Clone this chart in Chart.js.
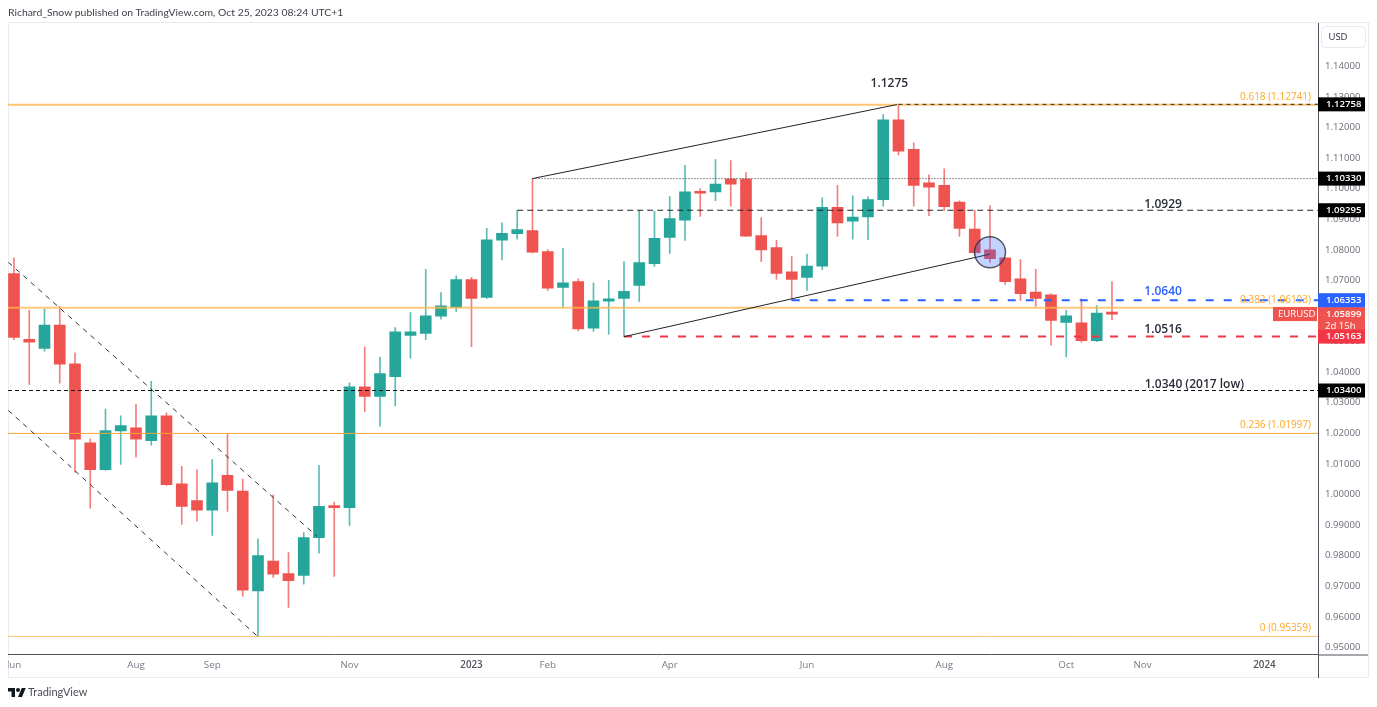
<!DOCTYPE html>
<html>
<head>
<meta charset="utf-8">
<title>EURUSD</title>
<script src="https://cdn.jsdelivr.net/npm/chart.js@4/dist/chart.umd.min.js"></script>
<style>
  html, body { margin: 0; padding: 0; background: #fff; width: 1377px; height: 707px; overflow: hidden; }
  #wrap { position: relative; width: 1377px; height: 707px; font-family: "Open Sans", sans-serif; }
  canvas { position: absolute; left: 0; top: 0; }
  #published { position: absolute; left: 8px; top: 6px; font-family: Lato, sans-serif; font-size: 10.4px; color: #3c3f48; white-space: nowrap; }
  #brand { position: absolute; left: 28px; top: 685px; font-family: Lato, sans-serif; font-size: 11px; color: #4a4d57; }
  #logo { position: absolute; left: 8px; top: 686px; }
  #leftMask { position: absolute; left: 0; top: 656px; width: 8px; height: 22px; background: #fff; }
</style>
</head>
<body>
<div id="wrap">
  <canvas id="chart" width="1377" height="707"></canvas>
  <div id="leftMask"></div>
  <div id="published">Richard_Snow published on TradingView.com, Oct 25, 2023 08:24 UTC+1</div>
  <svg id="logo" width="18" height="14" viewBox="0 0 36 28" fill="#131722">
    <path d="M14 22H7V11H0V4h14v18zM28 22h-8l7.5-18h8L28 22z"/><circle cx="20" cy="8" r="4"/>
  </svg>
  <div id="brand">TradingView</div>
</div>
<script>
// Weekly EURUSD candles, one entry per week from Jun 2022
const opens = [
  1.0722, 1.0507, 1.0478, 1.0554, 1.0427, 1.0169, 1.0081, 1.0208, 1.0218, 1.0176,
  1.0257, 1.0035, 0.9980, 0.9949, 1.0063, 1.0011, 0.9685, 0.9782, 0.9741, 0.9735,
  0.9859, 0.9963, 0.9957, 1.0352, 1.0321, 1.0385, 1.0520, 1.0527, 1.0583, 1.0612,
  1.0703, 1.0644, 1.0832, 1.0853, 1.0863, 1.0794, 1.0677, 1.0696, 1.0544, 1.0632,
  1.0641, 1.0684, 1.0755, 1.0841, 1.0897, 1.0990, 1.0989, 1.1031, 1.1031, 1.0847,
  1.0807, 1.0728, 1.0710, 1.0747, 1.0939, 1.0894, 1.0908, 1.0964, 1.1225, 1.1129,
  1.1019, 1.1011, 1.0956, 1.0868, 1.0800, 1.0774, 1.0705, 1.0662, 1.0653, 1.0563,
  1.0561, 1.0503, 1.0593
];
const closes = [
  1.0514, 1.0498, 1.0554, 1.0426, 1.0181, 1.0081, 1.0209, 1.0225, 1.0181, 1.0257,
  1.0032, 0.9961, 0.9949, 1.0038, 1.0013, 0.9687, 0.9800, 0.9739, 0.9718, 0.9859,
  0.9961, 0.9957, 1.0352, 1.0321, 1.0395, 1.0532, 1.0532, 1.0584, 1.0617, 1.0703,
  1.0641, 1.0833, 1.0854, 1.0866, 1.0792, 1.0675, 1.0692, 1.0541, 1.0633, 1.0640,
  1.0664, 1.0758, 1.0838, 1.0902, 1.0990, 1.0985, 1.1015, 1.1015, 1.0845, 1.0800,
  1.0723, 1.0703, 1.0747, 1.0939, 1.0888, 1.0907, 1.0964, 1.1225, 1.1123, 1.1011,
  1.1005, 1.0941, 1.0870, 1.0791, 1.0771, 1.0696, 1.0657, 1.0641, 1.0569, 1.0584,
  1.0503, 1.0593, 1.0590
];
const highs = [
  1.0774, 1.0602, 1.0607, 1.0615, 1.0463, 1.0182, 1.0279, 1.0257, 1.0295, 1.0370,
  1.0267, 1.0092, 1.0081, 1.0114, 1.0198, 1.0050, 0.9855, 0.9999, 0.9810, 0.9875,
  1.0095, 0.9975, 1.0365, 1.0483, 1.0449, 1.0546, 1.0595, 1.0736, 1.0660, 1.0715,
  1.0710, 1.0870, 1.0888, 1.0929, 1.1033, 1.0801, 1.0805, 1.0705, 1.0692, 1.0700,
  1.0762, 1.0929, 1.0926, 1.0974, 1.1076, 1.1000, 1.1095, 1.1092, 1.1053, 1.0905,
  1.0831, 1.0778, 1.0786, 1.0970, 1.1011, 1.0977, 1.0973, 1.1243, 1.1275, 1.1150,
  1.1045, 1.1065, 1.0960, 1.0929, 1.0945, 1.0775, 1.0768, 1.0736, 1.0656, 1.0602,
  1.0640, 1.0618, 1.0696
];
const lows = [
  1.0506, 1.0360, 1.0469, 1.0364, 1.0072, 0.9955, 1.0079, 1.0098, 1.0122, 1.0161,
  1.0030, 0.9902, 0.9913, 0.9866, 0.9945, 0.9667, 0.9536, 0.9729, 0.9631, 0.9707,
  0.9808, 0.9732, 0.9899, 1.0271, 1.0223, 1.0290, 1.0446, 1.0506, 1.0573, 1.0599,
  1.0483, 1.0641, 1.0767, 1.0835, 1.0790, 1.0667, 1.0612, 1.0535, 1.0533, 1.0524,
  1.0516, 1.0631, 1.0746, 1.0788, 1.0831, 1.0909, 1.0961, 1.0943, 1.0843, 1.0761,
  1.0703, 1.0635, 1.0667, 1.0735, 1.0844, 1.0835, 1.0833, 1.0943, 1.1110, 1.0943,
  1.0912, 1.0929, 1.0844, 1.0782, 1.0759, 1.0687, 1.0634, 1.0615, 1.0488, 1.0450,
  1.0498, 1.0500, 1.0572
];

// Axis ticks
const priceTicks = [
  0.95, 0.96, 0.97, 0.98, 0.99, 1.00, 1.01, 1.02, 1.03, 1.04,
  1.05, 1.06, 1.07, 1.08, 1.09, 1.10, 1.11, 1.12, 1.13, 1.14
];
const weekTicks = [0, 8, 13, 22, 30, 35, 43, 52, 61, 69, 74, 82];
const weekTickLabels = ["Jun", "Aug", "Sep", "Nov", "2023", "Feb", "Apr", "Jun", "Aug", "Oct", "Nov", "2024"];

// Fibonacci levels
const fibLevels = [1.12741, 1.06103, 1.01997, 0.95359];
const fibLabels = ["0.618 (1.12741)", "0.382 (1.06103)", "0.236 (1.01997)", "0 (0.95359)"];

// Drawn levels [start week, price]
const highLevel = [58, 1.12758];
const swingHighLevel = [34, 1.1033];
const resistanceLevel = [33, 1.09295];
const blueLevel = [51, 1.06353];
const redLevel = [40, 1.05163];
const lowLevel2017 = 1.034;
const lastPrice = 1.05899;

// Trend lines as week / price pairs
const channelUpper = [[-0.37, 1.0759], [19.85, 0.9864]];
const channelLower = [[-0.37, 1.0275], [15.95, 0.9537]];
const wedgeUpper = [[34, 1.1033], [57.9, 1.1275]];
const wedgeLower = [[40, 1.0516], [64, 1.0786]];
const retestPoint = [64, 1.0792];

// Text notes on the chart [text, week, price]
const notes = [
  ["1.1275", 57.4, 1.1344],
  ["1.0929", 75.35, 1.0947],
  ["1.0640", 75.35, 1.0664],
  ["1.0516", 75.35, 1.0540],
  ["1.0340 (2017 low)", 77.4, 1.0360]
];

const WEEK_MIN = -0.393;
const WEEK_MAX = 85.51;
const GREEN = "#26a69a";
const RED = "#ef5350";
const ORANGE = "#ffa726";
const FONT = '"Open Sans", sans-serif';

const weeks = opens.map((_, i) => i);
const candleColors = weeks.map((i) => (closes[i] >= opens[i] ? GREEN : RED));
const wickColors = weeks.map((i) => (closes[i] >= opens[i] ? "rgba(38,166,154,0.75)" : "rgba(239,83,80,0.75)"));

function toPoints(pairs) {
  return pairs.map((p) => ({ x: p[0], y: p[1] }));
}

function levelLine(start, price, color, width, dash, order) {
  return {
    type: "line",
    data: [{ x: start, y: price }, { x: WEEK_MAX, y: price }],
    borderColor: color,
    borderWidth: width,
    borderDash: dash,
    pointRadius: 0,
    order: order
  };
}

function trendLine(pairs, color, width, dash) {
  return {
    type: "line",
    data: toPoints(pairs),
    borderColor: color,
    borderWidth: width,
    borderDash: dash,
    pointRadius: 0,
    order: 1
  };
}

const datasets = [
  // Wicks first so the bodies sit on top of them
  {
    data: weeks.map((i) => ({ x: i, y: [lows[i], highs[i]] })),
    backgroundColor: wickColors,
    barThickness: 1,
    grouped: false,
    borderWidth: 0,
    order: 11
  },
  {
    data: weeks.map((i) => ({ x: i, y: [opens[i], closes[i]] })),
    backgroundColor: candleColors,
    barThickness: 11,
    grouped: false,
    borderWidth: 0,
    minBarLength: 2,
    order: 10
  },
  levelLine(WEEK_MIN, fibLevels[0], "rgba(255,183,77,0.8)", 2, [], 3),
  levelLine(WEEK_MIN, fibLevels[1], "rgba(255,183,77,0.75)", 2, [], 3),
  levelLine(WEEK_MIN, fibLevels[2], "#f7a53c", 1, [], 3),
  levelLine(WEEK_MIN, fibLevels[3], "#ffbf70", 1, [], 3),
  levelLine(highLevel[0], highLevel[1], "#2b2b2b", 1, [4, 4], 2),
  levelLine(swingHighLevel[0], swingHighLevel[1], "#333", 1, [1, 2], 2),
  levelLine(resistanceLevel[0], resistanceLevel[1], "#222", 1, [6, 4], 2),
  levelLine(blueLevel[0], blueLevel[1], "#2962ff", 2, [8, 10], 2),
  levelLine(redLevel[0], redLevel[1], "#f23645", 2, [8, 10], 2),
  levelLine(WEEK_MIN, lowLevel2017, "#111", 1, [4, 3], 2),
  trendLine(channelUpper, "#333", 1, [5, 5]),
  trendLine(channelLower, "#333", 1, [5, 5]),
  trendLine(wedgeUpper, "#222", 1, []),
  trendLine(wedgeLower, "#222", 1, []),
  {
    type: "line",
    data: [{ x: retestPoint[0], y: retestPoint[1] }],
    pointRadius: 15.5,
    pointBackgroundColor: "rgba(41,98,255,0.28)",
    pointBorderColor: "rgba(50,50,60,0.8)",
    pointBorderWidth: 1.5,
    showLine: false,
    order: 0
  }
];

// Frame of the published image, the fib and note labels, and the price tags
const overlayPlugin = {
  id: "overlay",
  beforeDraw(chart) {
    const ctx = chart.ctx;
    ctx.save();
    ctx.strokeStyle = "#e9ebf0";
    ctx.lineWidth = 1;
    ctx.strokeRect(8.5, 22.5, 1360, 655);
    ctx.restore();
  },
  afterDatasetsDraw(chart) {
    const ctx = chart.ctx;
    const x = chart.scales.x;
    const y = chart.scales.y;
    ctx.save();
    ctx.textBaseline = "middle";
    ctx.font = "10px " + FONT;
    ctx.fillStyle = ORANGE;
    ctx.textAlign = "right";
    fibLevels.forEach((level, i) => {
      ctx.fillText(fibLabels[i], chart.chartArea.right - 7, y.getPixelForValue(level) - 8);
    });
    ctx.font = "600 12px " + FONT;
    ctx.textAlign = "center";
    notes.forEach((note, i) => {
      ctx.fillStyle = i === 2 ? "#2962ff" : "#2a2e39";
      ctx.fillText(note[0], x.getPixelForValue(note[1]), y.getPixelForValue(note[2]));
    });
    ctx.restore();
  },
  afterDraw(chart) {
    const ctx = chart.ctx;
    const y = chart.scales.y;
    const area = chart.chartArea;
    ctx.save();
    // Price scale rule and time scale rule run on to the frame
    ctx.strokeStyle = "#50535e";
    ctx.lineWidth = 1;
    ctx.beginPath();
    ctx.moveTo(area.right + 0.5, area.bottom);
    ctx.lineTo(area.right + 0.5, 678);
    ctx.moveTo(area.right, area.bottom + 0.5);
    ctx.lineTo(1368, area.bottom + 0.5);
    ctx.stroke();

    ctx.textBaseline = "middle";
    ctx.textAlign = "left";
    ctx.font = "600 9.6px " + FONT;
    function tag(price, color) {
      const py = y.getPixelForValue(price);
      ctx.fillStyle = color;
      ctx.fillRect(area.right, py - 7, 47, 14);
      ctx.fillStyle = "#fff";
      ctx.fillText(price.toFixed(5), area.right + 8, py);
    }
    tag(highLevel[1], "#000");
    tag(swingHighLevel[1], "#000");
    tag(resistanceLevel[1], "#000");
    tag(lowLevel2017, "#000");

    // Last price block with symbol name and countdown
    const lastY = y.getPixelForValue(lastPrice);
    ctx.fillStyle = RED;
    ctx.fillRect(area.right, lastY - 7, 47, 27);
    ctx.fillRect(area.right - 45, lastY - 7, 44, 14);
    ctx.fillStyle = "#fff";
    ctx.fillText(lastPrice.toFixed(5), area.right + 8, lastY);
    ctx.font = "9.6px " + FONT;
    ctx.fillText("2d 15h", area.right + 7, lastY + 12.5);
    ctx.fillText("EURUSD", area.right - 40, lastY);
    ctx.font = "600 9.6px " + FONT;
    tag(blueLevel[1], "#2962ff");
    tag(redLevel[1], "#f23645");

    // Currency button
    ctx.fillStyle = "#fff";
    ctx.strokeStyle = "#e6e8ee";
    ctx.beginPath();
    ctx.roundRect(area.right + 3.5, 26.5, 44, 21, 4);
    ctx.fill();
    ctx.stroke();
    ctx.fillStyle = "#2a2e39";
    ctx.font = "9.5px " + FONT;
    ctx.textAlign = "center";
    ctx.fillText("USD", area.right + 20, 37.5);
    ctx.restore();
  }
};

new Chart(document.getElementById("chart"), {
  type: "bar",
  data: { datasets: datasets },
  options: {
    responsive: false,
    animation: false,
    layout: { autoPadding: false, padding: { left: 8, top: 23, right: 0, bottom: 0 } },
    plugins: { legend: { display: false }, tooltip: { enabled: false } },
    scales: {
      x: {
        type: "linear",
        offset: false,
        min: WEEK_MIN,
        max: WEEK_MAX,
        grid: { display: false, drawTicks: false },
        border: { display: true, color: "#50535e" },
        afterFit(axis) {
          axis.height = 52.5;
          axis.paddingLeft = 0;
          axis.paddingRight = 0;
        },
        afterBuildTicks(axis) { axis.ticks = weekTicks.map((v) => ({ value: v })); },
        ticks: {
          autoSkip: false,
          maxRotation: 0,
          padding: 5,
          font: (c) => ({ family: FONT, size: 9.8, weight: c.index === 4 || c.index === 11 ? "600" : "400" }),
          color: (c) => (c.index === 4 || c.index === 11 ? "#50535e" : "#787b86"),
          callback: (value, index) => weekTickLabels[index]
        }
      },
      y: {
        position: "right",
        min: 0.94767,
        max: 1.15418,
        grid: { display: false, drawTicks: false },
        border: { display: true, color: "#50535e" },
        afterFit(axis) {
          axis.width = 59;
          axis.paddingTop = 0;
          axis.paddingBottom = 0;
        },
        afterBuildTicks(axis) { axis.ticks = priceTicks.map((v) => ({ value: v })); },
        ticks: {
          padding: 7,
          font: { family: FONT, size: 9.6 },
          color: "#6a6d78",
          callback: (value) => value.toFixed(5)
        }
      }
    }
  },
  plugins: [overlayPlugin]
});
</script>
</body>
</html>
